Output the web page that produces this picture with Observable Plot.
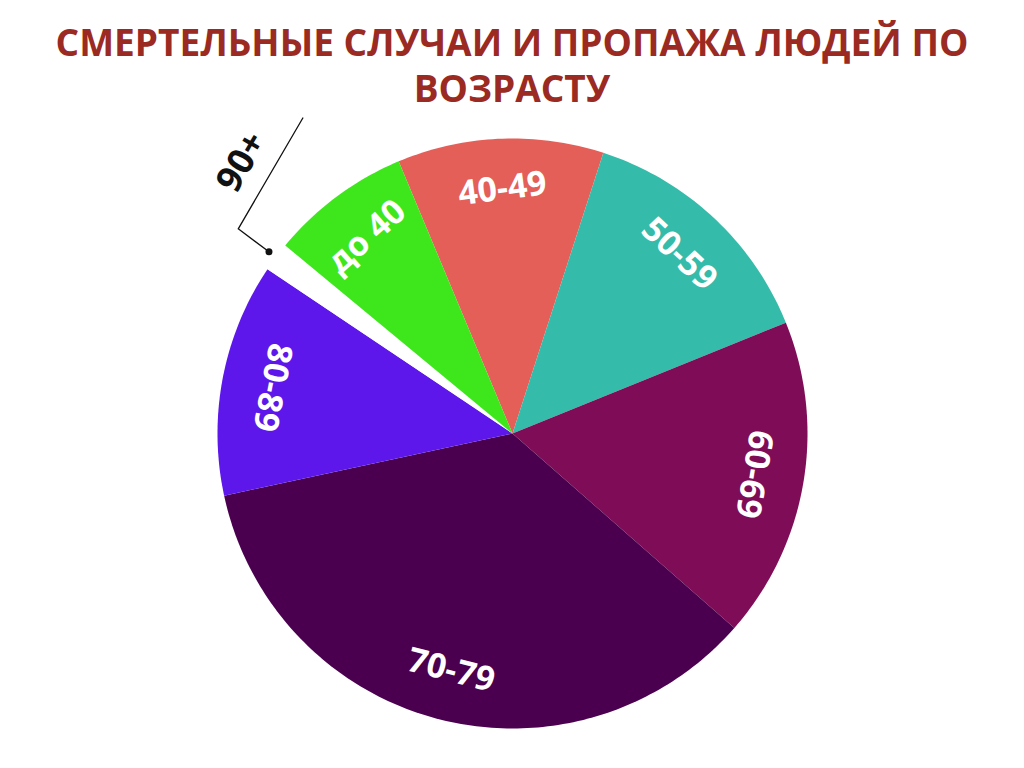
<!DOCTYPE html>
<html>
<head>
<meta charset="utf-8">
<script src="https://cdn.jsdelivr.net/npm/d3@7"></script>
<script src="https://cdn.jsdelivr.net/npm/@observablehq/plot@0.6"></script>
<style>
  html, body { margin: 0; padding: 0; background: #ffffff; }
  #title {
    height: 110px; box-sizing: border-box; padding-top: 21px;
    text-align: center; font-family: "Open Sans", sans-serif; font-weight: 700;
    font-size: 37px; color: #9a2a22; white-space: nowrap;
  }
  #title div { height: 46px; line-height: 42px; }
  #chart svg { display: block; }
</style>
</head>
<body>
<div id="title"><div>СМЕРТЕЛЬНЫЕ СЛУЧАИ И ПРОПАЖА ЛЮДЕЙ ПО</div><div>ВОЗРАСТУ</div></div>
<div id="chart"></div>
<script>
// ---- data ----
const categories = ["40-49", "50-59", "60-69", "70-79", "80-89", "90+", "до 40"];
const values = [11.3, 13.9, 17.6, 35.2, 12.8, 1.6, 7.7];
const colors = ["#e35f58", "#35bba9", "#7f0c57", "#4b004f", "#5d17ea", "#ffffff", "#3de71c"];
const outsideLabels = ["90+"];
const startAngleDeg = -22.7;

// ---- layout ----
const W = 1024, H = 658;
const R = 295;              // radius in px
const cx = 512, cy = 323;   // pie centre in svg px

const deg = Math.PI / 180;
const rows = categories.map((c, i) => ({category: c, value: values[i], color: colors[i]}));
const arcs = d3.pie().value(d => d.value).sort(null)
  .startAngle(startAngleDeg * deg).endAngle(startAngleDeg * deg + 2 * Math.PI)(rows);

// polygon points for each slice (unit radius, y up)
const pt = (a, r) => ({x: r * Math.sin(a), y: r * Math.cos(a)});
const slices = arcs.map(a => {
  const pts = [pt(0, 0)];
  const n = Math.max(4, Math.ceil((a.endAngle - a.startAngle) / deg));
  for (let k = 0; k <= n; k++) pts.push(pt(a.startAngle + (a.endAngle - a.startAngle) * k / n, 1));
  pts.push(pt(0, 0));
  return {data: a.data, pts};
});

const norm = d => ((d % 360) + 360) % 360;
const insideLabels = arcs.filter(a => !outsideLabels.includes(a.data.category)).map(a => {
  const mid = (a.startAngle + a.endAngle) / 2;
  const m = norm(mid / deg);
  const p = pt(mid, 0.83);
  return {...p, label: a.data.category, rotate: m < 180 ? m : m < 300 ? m - 180 : m - 365};
});

// leader for small outside slices
const leaders = [], leaderDots = [], leaderTexts = [];
arcs.filter(a => outsideLabels.includes(a.data.category)).forEach(a => {
  const mid = (a.startAngle + a.endAngle) / 2;
  const ta = mid - 6.5 * deg;
  const u = {x: Math.sin(mid), y: Math.cos(mid)};
  const t = {x: Math.cos(ta), y: -Math.sin(ta)};
  const dot = pt(mid, 1.03), elbow = pt(mid, 1.16);
  const end = {x: elbow.x + 0.435 * t.x, y: elbow.y + 0.435 * t.y};
  leaders.push({...dot, k: a.data.category}, {...elbow, k: a.data.category}, {...end, k: a.data.category});
  leaderDots.push(dot);
  leaderTexts.push({x: elbow.x + 0.19 * t.x + 0.105 * u.x, y: elbow.y + 0.19 * t.y + 0.105 * u.y,
    label: a.data.category, rotate: norm(ta / deg) - 360});
});

const chart = Plot.plot({
  width: W, height: H,
  marginTop: 0, marginRight: 0, marginBottom: 0, marginLeft: 0,
  x: {domain: [-cx / R, (W - cx) / R], axis: null},
  y: {domain: [-(H - cy) / R, cy / R], axis: null},
  style: {fontFamily: "'Open Sans', sans-serif", background: "transparent"},
  marks: [
    ...slices.map(s => Plot.line(s.pts, {x: "x", y: "y", fill: s.data.color, stroke: null, curve: "linear"})),
    Plot.text(insideLabels, {x: "x", y: "y", text: "label", rotate: "rotate", fill: "white",
      fontSize: 34, fontWeight: 700, textAnchor: "middle", lineAnchor: "middle"}),
    Plot.line(leaders, {x: "x", y: "y", z: "k", stroke: "#111", strokeWidth: 1.3}),
    Plot.dot(leaderDots, {x: "x", y: "y", r: 3.5, fill: "#111"}),
    Plot.text(leaderTexts, {x: "x", y: "y", text: "label", rotate: "rotate", fill: "#111",
      fontSize: 36, fontWeight: 700, textAnchor: "middle", lineAnchor: "middle"})
  ]
});
document.getElementById("chart").appendChild(chart);
</script>
</body>
</html>
